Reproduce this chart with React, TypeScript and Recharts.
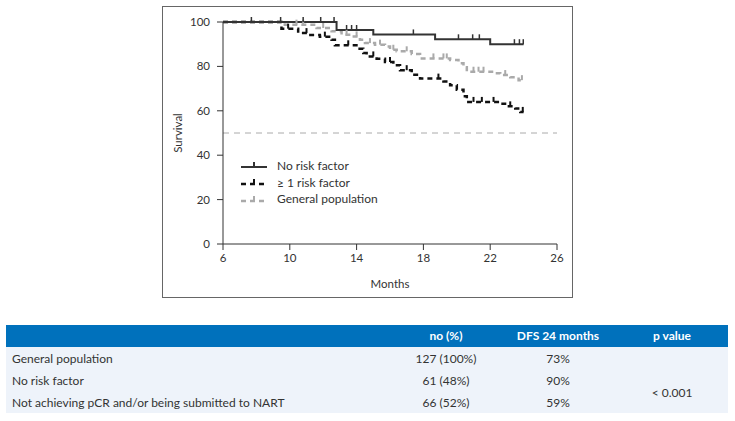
import { ComposedChart, Line, Scatter, XAxis, YAxis, ReferenceLine } from 'recharts';

// x ticks / y ticks
const monthTicks = [6, 10, 14, 18, 22, 26];
const survivalTicks = [0, 20, 40, 60, 80, 100];

// No risk factor: step points and censoring marks
const noRiskT = [6, 12.8, 15.0, 18.7, 22.0, 24.0];
const noRiskS = [100, 96.4, 94.4, 92.2, 90.0, 90.0];
const noRiskCensT = [7.7, 9.45, 10.8, 11.85, 12.65, 13.4, 13.7, 14.0, 17.4, 20.1, 20.95, 21.35, 23.45, 23.75, 23.98];
const noRiskCensS = [100, 100, 100, 100, 100, 96.4, 96.4, 96.4, 94.4, 92.2, 92.2, 92.2, 90, 90, 90];

// >= 1 risk factor
const riskT = [6, 9.5, 10.5, 11.1, 11.8, 12.5, 12.7, 14.1, 14.4, 14.6, 15.2, 15.7, 16.2, 16.6, 17.3, 17.8, 19.2, 19.6, 20.0, 20.4, 20.6, 22.6, 23.0, 23.5, 23.8, 24.0];
const riskS = [100, 97, 95, 94.2, 93.4, 92, 89.5, 88, 86, 84.5, 83.5, 82, 80.5, 78.3, 76.2, 74.5, 73.2, 71.5, 69.5, 66.5, 64, 63.2, 62, 61, 59.5, 59.5];
const riskCensT = [9.9, 11.0, 12.1, 13.5, 15.0, 16.0, 17.0, 18.9, 21.0, 21.5, 22.2, 23.2, 23.95];
const riskCensS = [97, 95, 93.4, 89.5, 84.5, 82, 78.3, 74.5, 64, 64, 64, 62, 59.5];

// General population
const genT = [6, 9.7, 11.6, 12.5, 13.1, 13.7, 14.2, 14.5, 15.1, 15.7, 16.0, 16.4, 17.3, 17.8, 19.6, 20.1, 20.4, 20.6, 22.2, 22.6, 23.2, 23.7, 24.0];
const genS = [100, 98.8, 97.3, 95.8, 94.3, 93.5, 92, 90.5, 89.8, 89, 87.5, 86.8, 85.6, 83.6, 82.9, 81.4, 79.6, 77.6, 76.9, 76.1, 75.1, 73.8, 73.8];
const genCensT = [10.4, 10.8, 12.0, 13.4, 14.0, 14.8, 15.4, 16.2, 17.0, 18.6, 19.2, 19.4, 21.0, 21.3, 21.6, 22.9, 23.9];
const genCensS = [98.8, 98.8, 97.3, 94.3, 93.5, 90.5, 89.8, 87.5, 86.8, 83.6, 83.6, 83.6, 77.6, 77.6, 77.6, 76.1, 73.8];

// table
const tableHeaders = ['no (%)', 'DFS 24 months', 'p value'];
const tableGroups = ['General population', 'No risk factor', 'Not achieving pCR and/or being submitted to NART'];
const tableCounts = ['127 (100%)', '61 (48%)', '66 (52%)'];
const tableDfs = ['73%', '90%', '59%'];
const pValue = '< 0.001';

const pts = (t: number[], s: number[]) => t.map((v, i) => ({ t: v, s: s[i] }));

const font = 'Lato, "Open Sans", sans-serif';

const tickMark = (color: string, w: number) => (props: any) => (
  <line x1={props.cx} x2={props.cx} y1={props.cy} y2={props.cy - 5} stroke={color} strokeWidth={w} />
);

function YLabel(props: any) {
  const vb = props.viewBox || { x: 0, y: 0, height: 0 };
  const cy = vb.y + vb.height / 2;
  return (
    <text x={15} y={cy} transform={`rotate(-90 15 ${cy})`} textAnchor="middle" dominantBaseline="central"
      fontSize={11.5} fill="#333" fontFamily={font}>
      Survival
    </text>
  );
}

const legendItems = [
  { name: 'No risk factor', color: '#333', width: 2, dash: '' },
  { name: '\u2265 1 risk factor', color: '#111', width: 2.5, dash: '5 4' },
  { name: 'General population', color: '#aaa', width: 2.5, dash: '5 4' },
];

const cell = { position: 'absolute' as const, height: 22, lineHeight: '22px', fontSize: 12, color: '#333', whiteSpace: 'nowrap' as const };

export default function App() {
  return (
    <div style={{ position: 'absolute', left: 0, top: 0, width: 735, height: 421, background: '#fff', fontFamily: font }}>
      <div style={{ position: 'absolute', left: 162, top: 6, width: 411, height: 292, boxSizing: 'border-box', border: '1px solid #666' }} />
      <div style={{ position: 'absolute', left: 162, top: 6 }}>
        <ComposedChart width={411} height={292} margin={{ top: 16, right: 16, bottom: 0, left: 0 }}>
          <XAxis
            type="number"
            dataKey="t"
            domain={[6, 26]}
            ticks={monthTicks}
            allowDataOverflow
            height={54}
            tickSize={6}
            tickMargin={4}
            stroke="#333"
            tick={{ fill: '#333', fontSize: 11.5, fontFamily: font }}
            label={{ value: 'Months', position: 'insideBottom', offset: 10, fill: '#333', fontSize: 11.5, fontFamily: font }}
          />
          <YAxis
            type="number"
            dataKey="s"
            domain={[0, 100]}
            ticks={survivalTicks}
            width={61}
            tickSize={6}
            tickMargin={7}
            stroke="#333"
            tick={{ fill: '#333', fontSize: 11.5, fontFamily: font }}
            label={<YLabel />}
          />
          <ReferenceLine y={50} stroke="#aaa" strokeDasharray="6 5" strokeWidth={1} ifOverflow="extendDomain" />
          <Line data={pts(genT, genS)} dataKey="s" type="stepAfter" stroke="#aaa" strokeWidth={2.5}
            strokeDasharray="5 4" dot={false} activeDot={false} isAnimationActive={false} />
          <Line data={pts(riskT, riskS)} dataKey="s" type="stepAfter" stroke="#111" strokeWidth={2.5}
            strokeDasharray="5 4" dot={false} activeDot={false} isAnimationActive={false} />
          <Line data={pts(noRiskT, noRiskS)} dataKey="s" type="stepAfter" stroke="#333" strokeWidth={2}
            dot={false} activeDot={false} isAnimationActive={false} />
          <Scatter data={pts(genCensT, genCensS)} dataKey="s" shape={tickMark('#aaa', 2)} isAnimationActive={false} />
          <Scatter data={pts(riskCensT, riskCensS)} dataKey="s" shape={tickMark('#111', 2)} isAnimationActive={false} />
          <Scatter data={pts(noRiskCensT, noRiskCensS)} dataKey="s" shape={tickMark('#333', 1.5)} isAnimationActive={false} />
        </ComposedChart>
      </div>

      {/* legend */}
      <div style={{ position: 'absolute', left: 241, top: 157 }}>
        {legendItems.map((it) => (
          <div key={it.name} style={{ display: 'flex', alignItems: 'center', height: 16.7 }}>
            <svg width={26} height={12} style={{ display: 'block' }}>
              <line x1={0} x2={26} y1={8} y2={8} stroke={it.color} strokeWidth={it.width} strokeDasharray={it.dash} />
              <line x1={13} x2={13} y1={8} y2={3} stroke={it.color} strokeWidth={2} />
            </svg>
            <span style={{ marginLeft: 10, fontSize: 12, color: '#333' }}>{it.name}</span>
          </div>
        ))}
      </div>

      {/* table */}
      <div style={{ position: 'absolute', left: 6, top: 325, width: 722, height: 22, background: '#0071bc' }} />
      <div style={{ position: 'absolute', left: 6, top: 347, width: 722, height: 66, background: '#eef3fa' }} />
      {tableHeaders.map((h, i) => (
        <div key={h} style={{
          ...cell, left: [446, 558, 672][i] - 60, width: 120, top: 325,
          textAlign: 'center', color: '#fff', fontWeight: 700,
        }}>{h}</div>
      ))}
      {tableGroups.map((g, i) => (
        <div key={g}>
          <div style={{ ...cell, left: 12, top: 348 + i * 22 }}>{g}</div>
          <div style={{ ...cell, left: 386, width: 120, top: 348 + i * 22, textAlign: 'center' }}>{tableCounts[i]}</div>
          <div style={{ ...cell, left: 498, width: 120, top: 348 + i * 22, textAlign: 'center' }}>{tableDfs[i]}</div>
        </div>
      ))}
      <div style={{ ...cell, left: 612, width: 120, top: 382, textAlign: 'center' }}>{pValue}</div>
    </div>
  );
}
